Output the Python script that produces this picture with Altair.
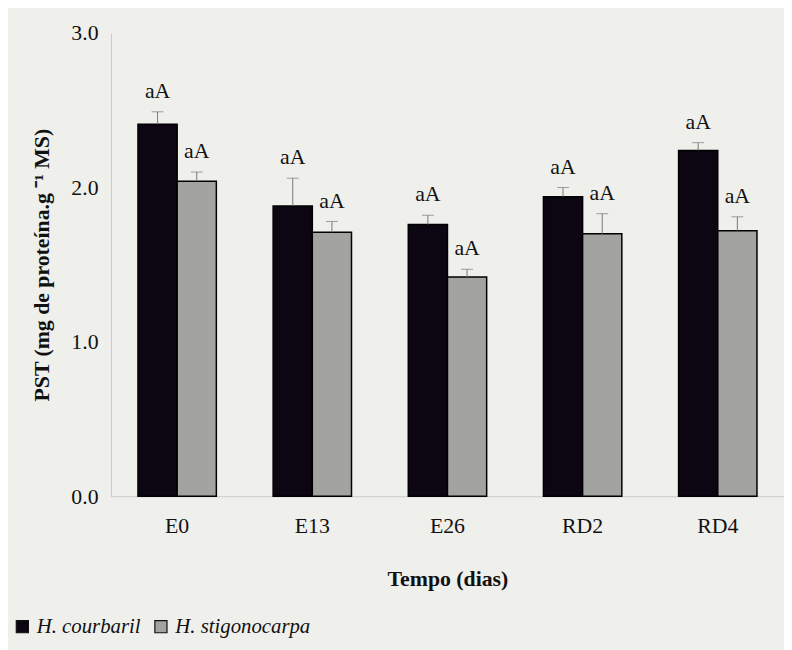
import altair as alt
import pandas as pd

categories = ["E0", "E13", "E26", "RD2", "RD4"]
series = ["H. courbaril", "H. stigonocarpa"]
courbaril = [2.41, 1.88, 1.76, 1.94, 2.24]
courbaril_err = [0.08, 0.18, 0.06, 0.06, 0.05]
stigono = [2.04, 1.71, 1.42, 1.70, 1.72]
stigono_err = [0.06, 0.07, 0.05, 0.13, 0.09]
letters_c = ["aA", "aA", "aA", "aA", "aA"]
letters_s = ["aA", "aA", "aA", "aA", "aA"]

rows = []
for i, c in enumerate(categories):
    rows.append({"cat": c, "ser": series[0], "val": courbaril[i],
                 "top": courbaril[i] + courbaril_err[i], "lab": letters_c[i]})
    rows.append({"cat": c, "ser": series[1], "val": stigono[i],
                 "top": stigono[i] + stigono_err[i], "lab": letters_s[i]})
df = pd.DataFrame(rows)

FONT = "Liberation Serif"
FS = 22

x = alt.X("cat:N", sort=categories, title="Tempo (dias)",
          scale=alt.Scale(paddingInner=0.42, paddingOuter=0.2),
          axis=alt.Axis(labelAngle=0, ticks=False, domain=True, domainColor="#c8c8c4",
                        labelFont=FONT, labelFontSize=FS, labelColor="#111",
                        labelPadding=20, titleFont=FONT, titleFontSize=FS,
                        titleFontWeight="bold", titlePadding=32, titleColor="#111"))
xo = alt.XOffset("ser:N", sort=series)
y = alt.Y("val:Q", scale=alt.Scale(domain=[0, 3]),
          title="PST (mg de proteína.g ⁻¹ MS)",
          axis=alt.Axis(values=[0, 1, 2, 3], format=".1f", ticks=False, grid=False,
                        domainColor="#c8c8c4", labelFont=FONT, labelFontSize=FS,
                        labelColor="#111", labelPadding=13, titleFont=FONT,
                        titleFontSize=FS, titleFontWeight="bold", titlePadding=18,
                        titleColor="#111"))

color = alt.Color("ser:N", sort=series, title=None,
                  scale=alt.Scale(domain=series, range=["#0b0612", "#a3a3a0"]),
                  legend=alt.Legend(orient="none", legendX=-100, legendY=589,
                                    direction="horizontal", symbolType="square",
                                    symbolSize=150, symbolStrokeColor="#111",
                                    symbolStrokeWidth=1.2, labelFont=FONT,
                                    labelFontSize=21, labelFontStyle="italic",
                                    labelColor="#111", columnPadding=10))

base = alt.Chart(df)
bars = base.mark_bar(stroke="#000", strokeWidth=1.5).encode(x=x, xOffset=xo, y=y, color=color)
err = base.mark_rule(color="#777", strokeWidth=1).encode(x=x, xOffset=xo, y="val:Q", y2="top:Q")
cap = base.mark_tick(color="#777", thickness=1, size=12, orient="horizontal").encode(
    x=x, xOffset=xo, y="top:Q")
txt = base.mark_text(font=FONT, fontSize=FS, baseline="bottom", dy=-9, color="#111").encode(
    x=x, xOffset=xo, y="top:Q", text="lab:N")

chart = alt.layer(bars, err, cap, txt).properties(
    width=680, height=468, background="#efefec",
    autosize=alt.AutoSizeParams(type="none"),
    padding={"left": 104, "top": 22, "right": 0, "bottom": 152},
).configure_view(stroke=None)

chart.save("out.html", embed_options={"renderer": "svg", "actions": False})
